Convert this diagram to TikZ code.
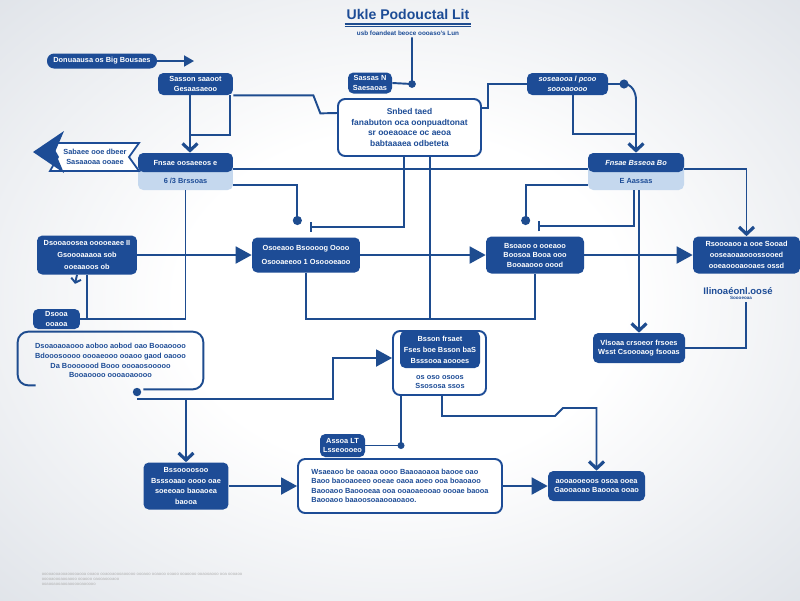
\documentclass[tikz,border=0pt]{standalone}
\usepackage{fontspec}
\setmainfont{Liberation Sans}
\usetikzlibrary{arrows.meta,positioning}
\definecolor{darkblue}{RGB}{29,76,150}
\definecolor{lineblue}{RGB}{30,76,143}
\definecolor{paleblue}{RGB}{197,216,238}
\definecolor{bgedge}{RGB}{204,210,219}
\pgfdeclareradialshading{bgshade}{\pgfpoint{0bp}{0bp}}{color(0bp)=(white); color(14bp)=(white); color(50bp)=(bgedge); color(72bp)=(bgedge)}
\newcommand{\bxfont}{\fontsize{4.2}{6.2}\selectfont\bfseries}
\newcommand{\tightfont}{\fontsize{4.2}{5.4}\selectfont\bfseries}
\newcommand{\smfont}{\fontsize{3.6}{4.6}\selectfont\bfseries}
\tikzset{
  conn/.style={draw=lineblue, line width=1.1pt},
  tri/.style={-{Triangle[length=0.32cm,width=0.34cm]}},
  smalltri/.style={-{Triangle[length=0.2cm,width=0.22cm]}},
  chev/.style={-{Straight Barb[length=0.14cm,width=0.3cm,line width=1.8pt]}},
  dbox/.style={fill=darkblue, text=white, rounded corners=3pt, font=\bxfont, align=center, inner sep=1pt},
  obox/.style={draw=darkblue, line width=1.1pt, fill=white, rounded corners=4pt, text=darkblue, font=\bxfont, align=center, inner sep=1pt},
  btext/.style={text=darkblue, font=\bxfont, align=center, inner sep=1pt},
  tight/.style={font=\tightfont},
}

\begin{document}
\begin{tikzpicture}[x=0.02cm, y=-0.02cm]
        % Background
        \shade[shading=bgshade] (0,0) rectangle (800,600);
        \useasboundingbox (0,0) rectangle (800,600);

        % Title
        \node[text=darkblue, font=\fontsize{8}{9}\selectfont\bfseries, inner sep=1pt] (title) at (408,14) {Ukle Podouctal Lit};
        \draw[lineblue, line width=1.2pt] ([yshift=-1.5pt]title.south west) -- ([yshift=-1.5pt]title.south east);
        \draw[lineblue, line width=0.4pt] ([yshift=-3pt]title.south west) -- ([yshift=-3pt]title.south east);
        \node[btext, font=\smfont] (sub) at (408,33) {usb foandeat beoce oooaso's Lun};

        % Top row
        \node[dbox, rounded corners=4pt, minimum width=2.2cm, minimum height=0.3cm] (pill) at (102,61) {Donuaausa os Big Bousaes};
        \node[dbox, tight, minimum width=1.5cm, minimum height=0.44cm] (seed) at (195.5,84) {Sasson saaoot\\Gesaasaeoo};
        \node[dbox, tight, minimum width=0.88cm, minimum height=0.42cm] (sensor) at (370,83) {Sassas N\\Saesaoas};
        \node[obox, font=\fontsize{4.8}{6.1}\selectfont\bfseries, minimum width=2.86cm, minimum height=1.14cm] (core) at (409.5,127.5) {Snbed taed\\fanabuton oca oonpuadtonat\\sr ooeaoace oc aeoa\\babtaaaea odbeteta};
        \node[dbox, font=\fontsize{4.2}{5.4}\selectfont\bfseries\itshape, minimum width=1.62cm, minimum height=0.44cm] (trbox) at (567.5,84) {soseaooa l pcoo\\soooaoooo};

        \coordinate (sdot) at (412,84);
        \draw[conn] (sub.south -| sdot) -- (sdot) -- (sensor.east);
        \fill[lineblue] (sdot) circle (2.2pt);
        \coordinate (pillend) at (194,61);
        \draw[conn, smalltri] (pill.east) -- (pillend);
        \draw[conn] (seed.south east) -- ++(80,0) -- ++(7,18) -- ([yshift=0.29cm]core.west);
        \coordinate (acorner) at (190,135);
        \draw[conn] (seed.south -| acorner) -- (acorner) -- ++(40,0) -- ++(0,-40);
        \draw[conn] ([yshift=0.39cm]core.east) -- ++(6,0) |- (trbox.west);
        \coordinate (bdot) at (624,84);
        \draw[conn] (trbox.east) -- (bdot);
        \fill[lineblue] (bdot) circle (2.6pt);
        \draw[conn] ([xshift=0.11cm]trbox.south) -- ++(0,39) -- ++(64,0);

        % Header boxes
        \node[fill=paleblue, rounded corners=3pt, minimum width=1.9cm, minimum height=0.74cm] (lbox) at (185.5,171.5) {};
        \node[dbox, minimum width=1.9cm, minimum height=0.38cm] (lhead) at (185.5,162.5) {Fnsae oosaeeos e};
        \node[btext] (ltxt) at (185.5,181) {6 /3 Brssoas};
        \node[fill=paleblue, rounded corners=3pt, minimum width=1.92cm, minimum height=0.74cm] (rbox) at (636,171.5) {};
        \node[dbox, font=\fontsize{4.2}{5.4}\selectfont\bfseries\itshape, minimum width=1.92cm, minimum height=0.38cm] (rhead) at (636,162.5) {Fnsae Bsseoa Bo};
        \node[btext] (rtxt) at (636,181) {E Aassas};

        \draw[conn, chev] (acorner) -- (acorner |- lhead.north);
        \draw[conn, chev] (bdot) to[out=0, in=90] ++(12,16) -- (rhead.north);

        % Banner
        \draw[darkblue, line width=1pt, fill=white] (139,143) -- (50,143) -- (58,157) -- (50,171) -- (139,171) -- (129,157) -- cycle;
        \fill[darkblue] (64,131) -- (33,152) -- (64,173) -- (55,152) -- cycle;
        \node[btext, tight] (btxt) at (95,157) {Sabaee ooe dbeer\\Sasaaoaa ooaee};

        % Middle row
        \node[dbox, font=\fontsize{4.2}{6.9}\selectfont\bfseries, minimum width=2.0cm, minimum height=0.78cm] (leftbox) at (87,255) {Dsooaoosea ooooeaee II\\Gsoooaaaoa sob\\ooeaaoos ob};
        \node[dbox, font=\fontsize{4.2}{7.8}\selectfont\bfseries, minimum width=2.16cm, minimum height=0.7cm] (midleft) at (306,255) {Osoeaoo Bsoooog Oooo\\Osooaeeoo 1 Osoooeaoo};
        \node[dbox, tight, minimum width=1.96cm, minimum height=0.74cm] (midright) at (535,255) {Bsoaoo o ooeaoo\\Boosoa Booa ooo\\Booaaooo oood};
        \node[dbox, minimum width=2.14cm, minimum height=0.74cm] (rightbox) at (746.5,255) {Rsoooaoo a ooe Sooad\\ooseaoaaooossooed\\ooeaoooaooaes ossd};
        \node[btext, font=\fontsize{5.4}{6}\selectfont\bfseries] (drift) at (738,291) {Ilinoaéonl.oosé};
        \node[btext, font=\fontsize{2.6}{3}\selectfont\bfseries] (drsub) at (741,298) {Soooeoaa};
        \node[dbox, tight, minimum width=0.94cm, minimum height=0.4cm] (smallbox) at (56.5,319) {Dsooa\\ooaoa};

        \draw[conn] ([yshift=-0.13cm]lhead.east) -- ([yshift=-0.13cm]rhead.west);
        \draw[conn, chev] ([yshift=-0.13cm]rhead.east) -| (rightbox.north);
        \draw[conn, -{Bar[width=0.2cm]}] ([xshift=-0.11cm]core.south) -- ++(0,70) -- ++(-94,0);
        \draw[conn] ([xshift=0.41cm]core.south) -- ++(0,163);
        \draw[conn, -{Circle[length=0.18cm]}] ([yshift=-0.27cm]lbox.east) -- ++(64,0) -- ++(0,40);
        \draw[conn, -{Circle[length=0.18cm]}] ([yshift=-0.27cm]rbox.west) -- ++(-62,0) -- ++(0,40);
        \draw[conn, -{Bar[width=0.2cm]}] ([xshift=-0.04cm]rbox.south) -- ++(0,36) -- ++(-96,0);
        \draw[conn, tri] (leftbox) -- (midleft);
        \draw[conn, tri] (midleft) -- (midright);
        \draw[conn, tri] (midright) -- (rightbox);
        \draw[conn] (midleft.south) -- ++(0,46) -| (midright.south);
        \draw[conn] (lbox.south) |- (smallbox.east);
        \draw[conn] (leftbox.south) -- (leftbox.south |- smallbox.east);
        \draw[conn, -{Straight Barb[length=0.08cm,width=0.2cm]}] ([xshift=-0.2cm]leftbox.south) -- ++(-2,9);

        % Lower middle
        \node[text=darkblue, font=\fontsize{4.2}{5.6}\selectfont\bfseries, align=center, minimum width=3.7cm, minimum height=1.14cm] (note) at (110.5,360.5) {Dsoaoaoaooo aoboo aobod oao Booaoooo\\Bdooosoooo oooaeooo ooaoo gaod oaooo\\Da Booooood Booo oooaosooooo\\Booaoooo oooaoaoooo};
        \draw[conn, rounded corners=6pt] ([xshift=0.36cm, yshift=0.08cm]note.south west) -- ([yshift=0.08cm]note.south west) -- (note.north west) -- (note.north east) -- (note.south east) -- ([xshift=-1.2cm]note.south east);
        \fill[lineblue] (137,392) circle (2.4pt);
        \node[dbox, tight, minimum width=1.84cm, minimum height=0.6cm] (vlbox) at (639,348) {Vlsoaa crsoeor frsoes\\Wsst Csoooaog fsooas};
        \node[obox, minimum width=1.86cm, minimum height=1.28cm] (lowmid) at (439.5,363) {};
        \node[dbox, minimum width=1.6cm, minimum height=0.74cm] (lowin) at (440,349.5) {Bsson frsaet\\Fses boe Bsson baS\\Bsssooa aoooes};
        \node[btext, tight] (lowtxt) at (440,382) {os oso osoos\\Ssososa ssos};

        \draw[conn, chev] (rbox.south -| vlbox.north) -- (vlbox.north);
        \draw[conn] (vlbox.east) -| ([xshift=0.1cm]drsub.south);
        \coordinate (nout) at (137,399);
        \draw[conn, tri] (nout) -- ++(196,0) |- ([yshift=0.1cm]lowmid.west);

        % Bottom row
        \node[dbox, tight, minimum width=0.9cm, minimum height=0.46cm] (assbox) at (342.5,445.5) {Assoa LT\\Lsseoooeo};
        \node[dbox, minimum width=1.7cm, minimum height=0.94cm] (blbox) at (186,486) {Bssoooosoo\\Bsssoaao oooo oae\\soeeoao baoaoea\\baooa};
        \node[obox, tight, align=left, minimum width=4.08cm, minimum height=1.08cm] (bigbox) at (400,486) {Wsaeaoo be oaoaa oooo Baaoaoaoa baooe oao\\Baoo baooaoeeo ooeae oaoa aoeo ooa boaoaoo\\Baooaoo Baoooeaa ooa ooaoaeooao oooae baooa\\Baooaoo baaoosoaaooaoaoo.};
        \node[dbox, tight, minimum width=1.94cm, minimum height=0.6cm] (brbox) at (596.5,486) {aooaooeoos osoa ooea\\Gaooaoao Baoooa ooao};
        \node[text=gray!60, font=\fontsize{2.4}{2.9}\selectfont, align=left, inner sep=0pt] (foot) at (142,579) {ooooaooaooaooooaooa ooaoo ooaooaoooaooooo oooaoo ooaooo ooaoo ooaoooo ooaooaooo ooa oooaoo\\ooooaoooaooaooo ooaooo oaooaoooaoo\\ooaooaooaooaoooooaooooo};

        \draw[conn, chev] (nout -| blbox.north) -- (blbox.north);
        \draw[conn, chev] ([xshift=0.05cm]lowmid.south) -- ++(0,20) -- ++(113,0) -- ++(8,-8) -| (brbox.north);
        \draw[conn] ([xshift=-0.77cm]lowmid.south) |- (assbox.east);
        \fill[lineblue] (401,445.5) circle (2pt);
        \draw[conn, tri] (blbox) -- (bigbox);
        \draw[conn, tri] (bigbox) -- (brbox);
\end{tikzpicture}
\end{document}
